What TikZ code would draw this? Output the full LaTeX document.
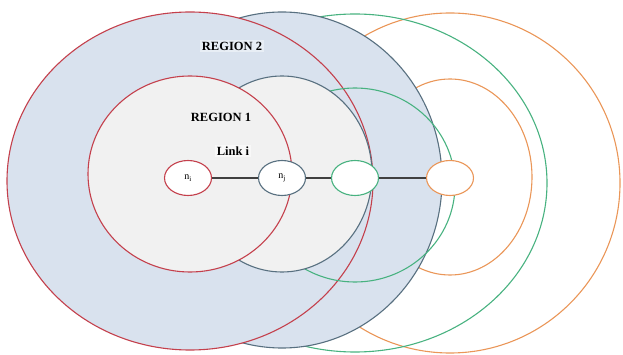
\documentclass[tikz,border=0pt]{standalone}
\usepackage{fontspec}
\setmainfont{Liberation Serif}
\usetikzlibrary{shapes.geometric,positioning}
\definecolor{regred}{RGB}{196,64,76}
\definecolor{steel}{RGB}{88,112,128}
\definecolor{grn}{RGB}{72,178,128}
\definecolor{orng}{RGB}{234,150,88}
\definecolor{bluefill}{RGB}{217,226,238}
\definecolor{greyfill}{RGB}{241,241,241}

\begin{document}
\begin{tikzpicture}[x=1pt,y=-1pt,node distance=94pt,on grid,
    zone/.style={line width=1.1pt},
    hop/.style={ellipse,draw,line width=1.1pt,fill=white,minimum width=47pt,minimum height=35pt,inner sep=0pt,font=\fontsize{10}{10}\selectfont},
    lbl/.style={font=\fontsize{12.5}{12.5}\selectfont\bfseries,inner sep=2pt}]
  \useasboundingbox (0,0) rectangle (623,355);
  \draw[zone,orng] (450,183) ellipse [x radius=170pt, y radius=170pt];
  \draw[zone,orng] (450,177) ellipse [x radius=82pt, y radius=98pt];
  \draw[zone,grn] (355,183) ellipse [x radius=192pt, y radius=169pt];
  \draw[zone,steel,fill=bluefill] (282,180) ellipse [x radius=160pt, y radius=168pt];
  \draw[zone,regred,fill=bluefill] (190,181) ellipse [x radius=183pt, y radius=169pt];
  \draw[zone,grn] (355,185) ellipse [x radius=100pt, y radius=97pt];
  \draw[zone,steel,fill=greyfill] (282,174) ellipse [x radius=90pt, y radius=98pt];
  \draw[zone,regred,fill=greyfill] (190,174) ellipse [x radius=102pt, y radius=98pt];
  \node[lbl,fill=bluefill!60!white] (reg2) at (232,46) {REGION 2};
  \node[lbl] (reg1) at (221,117) {REGION 1};
  \node[lbl,fill=greyfill!50!white] (link) at (233,151) {Link i};
  \node[hop,draw=regred] (n_i) at (188,178) {n\textsubscript{i}};
  \node[hop,draw=steel] (n_j) [right=94pt of n_i] {n\textsubscript{j}};
  \node[hop,draw=grn] (n_k) [right=73pt of n_j] {};
  \node[hop,draw=orng] (n_l) [right=95pt of n_k] {};
  \path[draw=black!75,line width=1.1pt]
    (n_i) edge (n_j)
    (n_j) edge (n_k)
    (n_k) edge (n_l);
\end{tikzpicture}
\end{document}
